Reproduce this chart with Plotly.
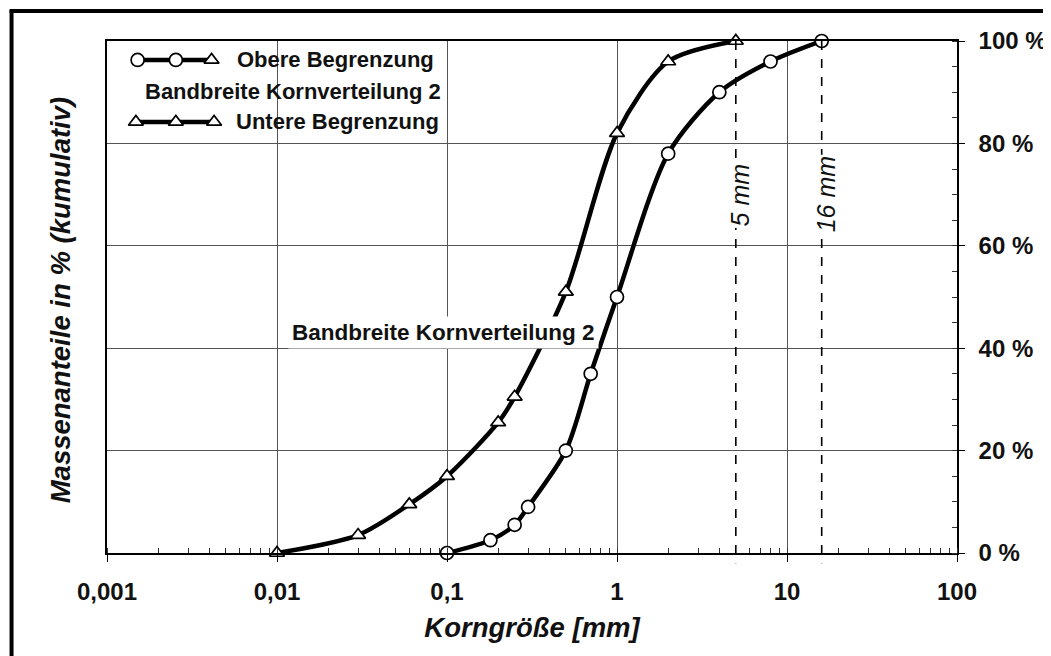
import math
import plotly.graph_objects as go

# Kornverteilung: untere / obere Begrenzung (Bandbreite 2)
lower_size = [0.01, 0.03, 0.06, 0.1, 0.2, 0.25, 0.5, 1, 2, 5]
lower_pct = [0, 3.5, 9.5, 15, 25.5, 30.5, 51, 82, 96, 100]

upper_size = [0.1, 0.18, 0.25, 0.3, 0.5, 0.7, 1, 2, 4, 8, 16]
upper_pct = [0, 2.5, 5.5, 9, 20, 35, 50, 78, 90, 96, 100]

x_tickvals = [0.001, 0.01, 0.1, 1, 10, 100]
x_ticktext = ["0,001", "0,01", "0,1", "1", "10", "100"]
y_tickvals = [0, 20, 40, 60, 80, 100]
y_ticktext = ["0 %", "20 %", "40 %", "60 %", "80 %", "100 %"]

max_grain = [5, 16]
max_grain_text = ["5 mm", "16 mm"]

FONT = "Arial, Liberation Sans, sans-serif"
LINE = dict(color="black", width=4.5)
OPEN = dict(color="white", size=13, line=dict(color="black", width=1.7))

fig = go.Figure()

# Kurven
fig.add_trace(go.Scatter(
    x=lower_size, y=lower_pct, mode="lines+markers",
    line=dict(color="black", width=4.5, shape="spline", smoothing=0.8),
    marker=dict(symbol="triangle-up", **OPEN),
    showlegend=False, cliponaxis=False,
))
fig.add_trace(go.Scatter(
    x=upper_size, y=upper_pct, mode="lines+markers",
    line=dict(color="black", width=4.5, shape="spline", smoothing=0.8),
    marker=dict(symbol="circle", **OPEN),
    showlegend=False, cliponaxis=False,
))

# Legende (eigene Zeichnung auf einer überlagerten Achse 0..1)
fig.add_trace(go.Scatter(
    x=[0.036, 0.123], y=[0.963, 0.963], mode="lines",
    line=LINE, xaxis="x2", yaxis="y2", showlegend=False, hoverinfo="skip",
))
fig.add_trace(go.Scatter(
    x=[0.036, 0.081], y=[0.963, 0.963], mode="markers",
    marker=dict(symbol="circle", **OPEN),
    xaxis="x2", yaxis="y2", showlegend=False, hoverinfo="skip",
))
fig.add_trace(go.Scatter(
    x=[0.123], y=[0.963], mode="markers",
    marker=dict(symbol="triangle-up", **OPEN),
    xaxis="x2", yaxis="y2", showlegend=False, hoverinfo="skip",
))
fig.add_trace(go.Scatter(
    x=[0.034, 0.081, 0.126], y=[0.842, 0.842, 0.842], mode="lines+markers",
    line=LINE, marker=dict(symbol="triangle-up", **OPEN),
    xaxis="x2", yaxis="y2", showlegend=False, hoverinfo="skip",
))

annotations = [
    dict(x=0.150, y=0.963, xref="paper", yref="paper", xanchor="left", yanchor="middle",
         text="<b>Obere Begrenzung</b>", showarrow=False, font=dict(size=22)),
    dict(x=0.042, y=0.902, xref="paper", yref="paper", xanchor="left", yanchor="middle",
         text="<b>Bandbreite Kornverteilung 2</b>", showarrow=False, font=dict(size=22)),
    dict(x=0.149, y=0.842, xref="paper", yref="paper", xanchor="left", yanchor="middle",
         text="<b>Untere Begrenzung</b>", showarrow=False, font=dict(size=22)),
    # Beschriftung im Diagramm
    dict(x=-1.018, y=43, xref="x", yref="y", text="<b>Bandbreite Kornverteilung 2</b>",
         showarrow=False, font=dict(size=22.5), bgcolor="white", borderpad=3),
    # y-Achsentitel links
    dict(x=-0.055, y=0.494, xref="paper", yref="paper", textangle=-90,
         xanchor="center", yanchor="middle",
         text="<b><i>Massenanteile in % (kumulativ)</i></b>", showarrow=False,
         font=dict(size=27.5)),
]

shapes = [
    # weißer Hintergrund der Legende
    dict(type="rect", xref="paper", yref="paper", x0=0.0, x1=0.403, y0=0.803, y1=1.0,
         fillcolor="white", line=dict(width=0), layer="below"),
    # Rahmen
    dict(type="line", xref="paper", yref="paper", x0=-0.1123, x1=-0.1123, y0=1.0605, y1=-0.3,
         line=dict(color="black", width=4)),
    dict(type="line", xref="paper", yref="paper", x0=-0.1146, x1=1.2, y0=1.0586, y1=1.0586,
         line=dict(color="black", width=4)),
]

for size, label in zip(max_grain, max_grain_text):
    shapes.append(dict(type="line", xref="x", yref="paper", x0=size, x1=size, y0=1.0, y1=-0.02,
                       line=dict(color="black", width=1.6, dash="dash")))
    annotations.append(dict(x=math.log10(size), y=70, xref="x", yref="y", textangle=-90,
                            text="<i>" + label + "</i>", showarrow=False, xshift=4,
                            font=dict(size=25, color="#111111"), bgcolor="white", borderpad=1))

# Seite hat 8px Rand im Browser -> Ränder entsprechend kleiner
fig.update_layout(
    width=1051, height=656,
    margin=dict(l=99, r=97, t=33, b=111),
    paper_bgcolor="white", plot_bgcolor="white",
    font=dict(family=FONT, color="#111111"),
    xaxis=dict(
        type="log", range=[-3, 2], tickvals=x_tickvals, ticktext=x_ticktext,
        tickfont=dict(size=24, family=FONT, weight="bold"),
        ticks="outside", ticklen=7, tickcolor="black",
        showline=True, linecolor="black", linewidth=1.5, mirror=True,
        showgrid=True, gridcolor="#555555", gridwidth=1,
        minor=dict(ticks="inside", ticklen=5, tickcolor="#333333", dtick="D1", showgrid=False),
        ticklabelstandoff=9,
        title=dict(text="<b><i>Korngröße [mm]</i></b>", font=dict(size=27.5), standoff=14),
        zeroline=False,
    ),
    yaxis=dict(
        range=[0, 100], tickvals=y_tickvals, ticktext=y_ticktext, side="right",
        tickfont=dict(size=24, family=FONT, weight="bold"),
        ticks="outside", ticklen=6, tickcolor="black",
        showline=True, linecolor="black", linewidth=1.5, mirror=True,
        showgrid=True, gridcolor="#555555", gridwidth=1,
        minor=dict(ticks="inside", ticklen=5, tickcolor="#333333", dtick=5, showgrid=False),
        ticklabelstandoff=9,
        zeroline=False,
    ),
    xaxis2=dict(range=[0, 1], overlaying="x", visible=False, domain=[0, 1]),
    yaxis2=dict(range=[0, 1], overlaying="y", visible=False),
    annotations=annotations,
    shapes=shapes,
)

fig.write_html("out.html")
